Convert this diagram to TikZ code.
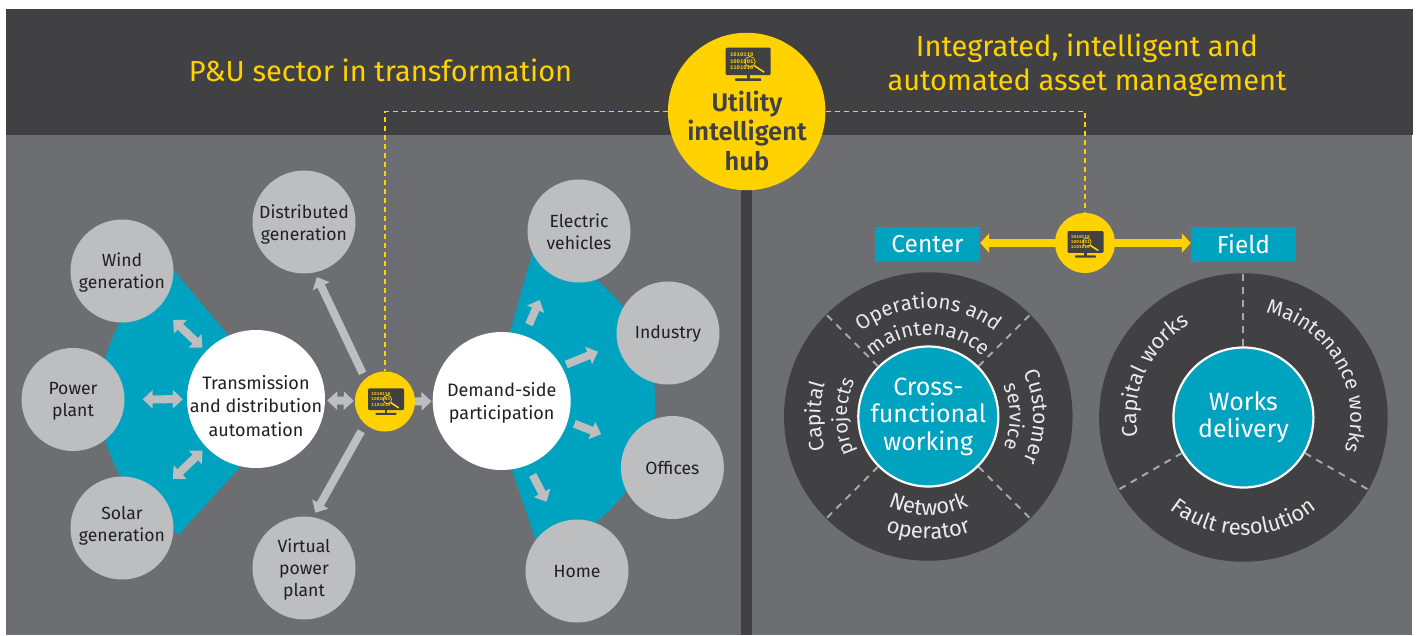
\documentclass[tikz,border=0pt]{standalone}
\usepackage{fontspec}
\setmainfont{Fira Sans}[UprightFont=* Light,BoldFont=* Medium]
\newfontfamily\regf{Fira Sans}
\newfontfamily\heavyf{Fira Sans}[UprightFont=* SemiBold]
\newfontfamily\monof{Liberation Mono}[BoldFont=* Bold]
\usetikzlibrary{arrows.meta,decorations.text}
\definecolor{darkb}{HTML}{414042}
\definecolor{midg}{HTML}{6D6E71}
\definecolor{lightg}{HTML}{BCBEC0}
\definecolor{teal}{HTML}{00A3BF}
\definecolor{ey}{HTML}{FFD200}
\definecolor{ink}{HTML}{231F20}
\definecolor{ringtxt}{HTML}{E9EAEB}
\newcommand{\px}[1]{\regf\fontsize{#1}{#1}\selectfont}
\tikzset{
  graycirc/.style={circle,fill=lightg,draw=none,minimum size=103pt,inner sep=0pt},
  whitecirc/.style={circle,fill=white,draw=none,minimum size=138pt,inner sep=0pt},
  lbl/.style={inner sep=0pt,align=center,text=ink,font=\regf\fontsize{17.6}{22}\selectfont},
  lblbig/.style={inner sep=0pt,align=center,text=ink,font=\regf\fontsize{18}{23.5}\selectfont},
  hubcirc/.style={circle,fill=ey,draw=none,minimum size=60pt,inner sep=0pt},
  ringcirc/.style={circle,fill=darkb,draw=none,minimum size=288.5pt,inner sep=0pt},
  corecirc/.style={circle,fill=teal,draw=white,line width=2.2pt,minimum size=140pt,inner sep=0pt,align=center,text=white,font=\regf\fontsize{25}{27.5}\selectfont},
  tagbox/.style={rectangle,fill=teal,minimum width=105pt,minimum height=34.4pt,inner sep=0pt,text=white,font=\regf\fontsize{24.5}{24.5}\selectfont},
  headtxt/.style={text=ey,font=\regf\fontsize{29}{34}\selectfont,align=center,inner sep=0pt},
  dubarrow/.style={line width=8pt,lightg,{Triangle[length=10pt,width=18pt]}-{Triangle[length=10pt,width=18pt]}},
  sinarrow/.style={line width=8pt,lightg,-{Triangle[length=10pt,width=18pt]}},
  yelarrow/.style={line width=7.5pt,ey,-{Triangle[length=9pt,width=19pt]}},
  hubdash/.style={draw=ey,line width=1.15pt,dash pattern=on 5pt off 4pt},
  segdash/.style={lightg!72!midg,line width=2pt,dash pattern=on 7pt off 6pt},
  curved/.style 2 args={decorate,decoration={text along path,text align=center,text color=ringtxt,text={|\px{#1}|#2}}},
  bintxt/.style={inner sep=0pt,anchor=west,text=ey,font=\monof\bfseries\fontsize{5.6}{5.6}\selectfont,transform shape}
}
% #1 name, #2 x, #3 y of screen top centre, #4 scale
\newcommand{\monitoricon}[4]{%
  \begin{scope}[shift={(#2,#3)},scale=#4]
    \fill[darkb,rounded corners=1.2pt] (-22.5,0) rectangle (22.5,27.3);
    \fill[darkb] (-1.5,27) rectangle (1.5,31);
    \fill[darkb,rounded corners=.6pt] (-13,30.6) rectangle (13,33.2);
    \node[bintxt] (#1a) at (-18.4,7.3) {1010110};
    \node[bintxt] (#1b) at (-18.4,14) {1001001};
    \node[bintxt] (#1c) at (-18.4,20.4) {1101010};
    \draw[ey,line width=.7pt] (1.8,14) circle (5.2pt);
    \draw[ey,line width=1.6pt] (6,18) -- (16,24.5);
  \end{scope}}
\begin{document}
\begin{tikzpicture}[x=1pt,y=-1pt]
\useasboundingbox (0,0) rectangle (1416,635);
\fill[white] (0,0) rectangle (1416,635);
\fill[midg] (6,135) rectangle (1412,635);
\fill[darkb] (6,9) rectangle (1413,135);
\fill[darkb] (741,135) rectangle (752,635);
% teal sectors
\begin{scope}
  \clip (281.5,399) -- (130,218) -- (40,218) -- (40,588) -- (130,588) -- (302,399) -- cycle;
  \fill[teal] (256,399) circle (156pt);
\end{scope}
\begin{scope}
  \clip (510,332) -- (553,180) -- (700,180) -- (700,600) -- (556,600) -- (512,470) -- cycle;
  \fill[teal] (501.7,401) circle (153.5pt);
\end{scope}
% circles
\node[graycirc] (wind) at (122,271) {};
\node[graycirc] (power) at (73,399.5) {};
\node[graycirc] (solar) at (122,528) {};
\node[graycirc] (distgen) at (304,222) {};
\node[graycirc] (virtual) at (304,568) {};
\node[graycirc] (electric) at (579,231) {};
\node[graycirc] (industry) at (668,333) {};
\node[graycirc] (offices) at (672.4,467.5) {};
\node[graycirc] (home) at (577,571) {};
\node[whitecirc] (trans) at (256,399) {};
\node[whitecirc] (demand) at (501.7,401) {};
\node[lbl] (windt) at (122,273) {Wind\\generation};
\node[lbl] (powert) at (73,401.5) {Power\\plant};
\node[lbl] (solart) at (122,526) {Solar\\generation};
\node[lbl] (distgent) at (304,224.5) {Distributed\\generation};
\node[lbl] (virtualt) at (304,570) {Virtual\\power\\plant};
\node[lbl] (electrict) at (579,232) {Electric\\vehicles};
\node[lbl] (industryt) at (668,334) {Industry};
\node[lbl] (officest) at (672.4,467.5) {Offices};
\node[lbl] (homet) at (577,571.5) {Home};
\node[lblbig] (transt) at (256,406) {Transmission\\and distribution\\automation};
\node[lblbig] (demandt) at (501.7,403) {Demand-side\\participation};
% hubs
\node[hubcirc] (hubone) at (385,401.5) {};
\node[hubcirc] (hubtwo) at (1085,243) {};
\node[hubcirc,minimum size=157.5pt] (bighub) at (746.7,111.5) {};
\node[inner sep=0pt,align=center,text=darkb,font=\heavyf\fontsize{25.5}{29.5}\selectfont] (bighubtxt) at (747,130.5) {Utility\\intelligent\\hub};
\monitoricon{iconbig}{748.2}{47.7}{1}
\monitoricon{iconone}{386}{388.3}{.8}
\monitoricon{icontwo}{1085.5}{231}{.8}
% dashed links
\draw[hubdash] (bighub.west) -| (hubone.north);
\draw[hubdash] (bighub.east) -| (hubtwo.north);
% arrows
\draw[dubarrow,shorten <=18pt,shorten >=4pt] (power) -- (trans);
\draw[dubarrow,shorten <=19pt,shorten >=5pt] (wind) -- (trans);
\draw[dubarrow,shorten <=19pt,shorten >=5pt] (solar) -- (trans);
\draw[dubarrow,shorten <=1pt,shorten >=2pt] (hubone) -- (trans);
\draw[sinarrow,shorten <=0pt,shorten >=1pt] (hubone) -- (demand);
\draw[sinarrow,shorten <=6pt,shorten >=5pt] (hubone.131) -- (distgen.282);
\draw[sinarrow,shorten <=8pt,shorten >=5pt] (hubone.229) -- (virtual.80);
\draw[sinarrow,shorten <=12pt,shorten >=28pt] (demand.71) -- (electric.237);
\draw[sinarrow,shorten <=5pt,shorten >=21pt] (demand.30) -- (industry.192);
\draw[sinarrow,shorten <=7pt,shorten >=27pt] (demand.343) -- (offices.153);
\draw[sinarrow,shorten <=11pt,shorten >=24pt] (demand.292) -- (home.112);
% headings
\node[headtxt] (headleft) at (380.5,70) {P\&U sector in transformation};
\node[headtxt] (headright) at (1087,65.5) {Integrated, intelligent and\\automated asset management};
% centre/field
\node[tagbox] (center) at (927.5,244.5) {Center};
\node[tagbox] (field) at (1243.5,244.5) {Field};
\draw[yelarrow] (hubtwo.west) -- (hubtwo.west -| center.east);
\draw[yelarrow] (hubtwo.east) -- (hubtwo.east -| field.west);
% ring 1
\node[ringcirc] (ringa) at (928.3,416.5) {};
\node[corecirc] (cross) at (928.3,416.5) {Cross-\\functional\\working};
\foreach \a in {45,135,225,315}{\draw[segdash] (cross.\a) -- (ringa.\a);}
\begin{scope}[shift={(928.3,416.5)},y=1pt]
  \path[curved={20.5}{Operations and}] (150:108) arc[start angle=150,end angle=30,radius=108];
  \path[curved={20.5}{maintenance}] (150:81.5) arc[start angle=150,end angle=30,radius=81.5];
  \path[curved={22}{Network}] (220:98.5) arc[start angle=220,end angle=320,radius=98.5];
  \path[curved={22}{operator}] (220:122.5) arc[start angle=220,end angle=320,radius=122.5];
  \path[curved={21}{Capital}] (225:108) arc[start angle=225,end angle=135,radius=108];
  \path[curved={20}{projects}] (225:81.5) arc[start angle=225,end angle=135,radius=81.5];
  \path[curved={21}{Customer}] (45:105) arc[start angle=45,end angle=-45,radius=105];
  \path[curved={20}{service}] (45:81.5) arc[start angle=45,end angle=-45,radius=81.5];
\end{scope}
% ring 2
\node[ringcirc] (ringb) at (1243.4,417.5) {};
\node[corecirc] (works) at (1243.4,417.5) {Works\\delivery};
\foreach \a in {90,210,330}{\draw[segdash] (works.\a) -- (ringb.\a);}
\begin{scope}[shift={(1243.4,417.5)},y=1pt]
  \path[curved={21.5}{Capital works}] (215:107) arc[start angle=215,end angle=95,radius=107];
  \path[curved={20.5}{Maintenance works}] (110:107) arc[start angle=110,end angle=-50,radius=107];
  \path[curved={22}{Fault resolution}] (210:117.5) arc[start angle=210,end angle=330,radius=117.5];
\end{scope}
\end{tikzpicture}
\end{document}
